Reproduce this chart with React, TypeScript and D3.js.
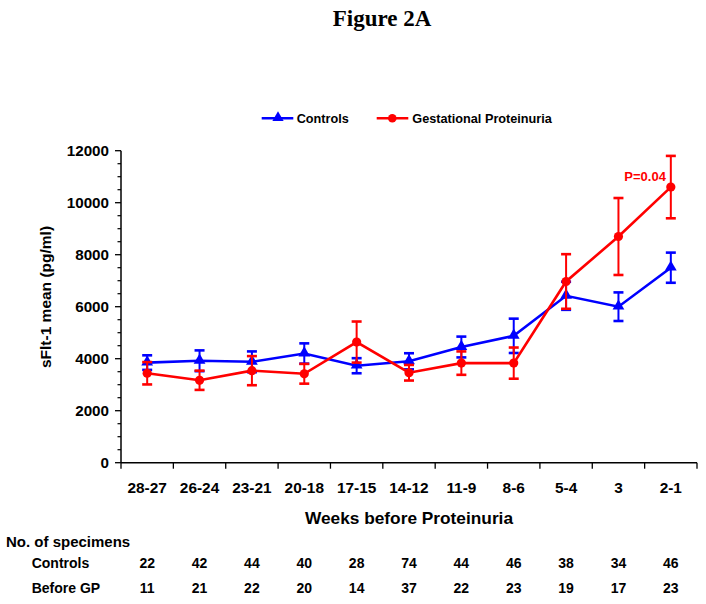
import React from "react";
import * as d3 from "d3";

const categories = ["28-27", "26-24", "23-21", "20-18", "17-15", "14-12", "11-9", "8-6", "5-4", "3", "2-1"];
const controlsMean = [3850, 3920, 3880, 4200, 3730, 3900, 4450, 4880, 6420, 6000, 7500];
const controlsErr = [280, 400, 400, 390, 290, 310, 400, 660, 540, 550, 580];
const gpMean = [3440, 3170, 3540, 3420, 4640, 3460, 3830, 3830, 6970, 8700, 10600];
const gpErr = [430, 370, 560, 380, 790, 300, 450, 600, 1050, 1480, 1200];
const controlsN = [22, 42, 44, 40, 28, 74, 44, 46, 38, 34, 46];
const gpN = [11, 21, 22, 20, 14, 37, 22, 23, 19, 17, 23];
const yMajorTicks = [0, 2000, 4000, 6000, 8000, 10000, 12000];

const FONT = "'Liberation Sans', Arial, Helvetica, sans-serif";
const BLUE = "#0000FF";
const RED = "#FF0000";

export default function App() {
  const x = d3.scaleBand<string>().domain(categories).range([121, 697]).padding(0);
  const y = d3.scaleLinear().domain([0, 12000]).range([462.7, 150.7]);
  const cx = (c: string) => (x(c) as number) + x.bandwidth() / 2;
  const minorTicks = d3.range(0, 12001, 500).filter((v) => v % 2000 !== 0);
  const line = d3
    .line<number>()
    .x((_, i) => cx(categories[i]))
    .y((d) => y(d));
  const tri = d3.symbol().type(d3.symbolTriangle).size(55)() as string;
  const tri2 = d3.symbol().type(d3.symbolTriangle).size(60)() as string;

  const series = [
    { mean: controlsMean, err: controlsErr, color: BLUE, shape: "tri" },
    { mean: gpMean, err: gpErr, color: RED, shape: "circle" },
  ];
  const capW = 5;

  return (
    <svg width={706} height={604} style={{ position: "absolute", left: 0, top: 0, background: "#fff" }}>
      <rect x={0} y={0} width={706} height={604} fill="#fff" />
      <text x={382} y={26} textAnchor="middle" fontFamily="'Liberation Serif', 'Times New Roman', serif" fontWeight="bold" fontSize={23}>
        Figure 2A
      </text>

      {/* Legend */}
      <g fontFamily={FONT} fontWeight="bold" fontSize={12.7}>
        <line x1={261.7} x2={293.3} y1={118.3} y2={118.3} stroke={BLUE} strokeWidth={2.5} />
        <path d={tri} transform={`translate(278,117.8)`} fill={BLUE} />
        <text x={296.7} y={122.7} fill="#000">Controls</text>
        <line x1={376.7} x2={408.3} y1={118.3} y2={118.3} stroke={RED} strokeWidth={2.5} />
        <circle cx={392.3} cy={118.3} r={4.3} fill={RED} />
        <text x={412.3} y={122.7} fill="#000">Gestational Proteinuria</text>
      </g>

      {/* Y axis */}
      <line x1={121} x2={121} y1={y(12000)} y2={y(0)} stroke="#000" strokeWidth={1.5} />
      {yMajorTicks.map((v) => (
        <g key={v}>
          <line x1={115} x2={121} y1={y(v)} y2={y(v)} stroke="#000" strokeWidth={1.3} />
          <text x={109} y={y(v) + 5.3} textAnchor="end" fontFamily={FONT} fontWeight="bold" fontSize={15.2}>
            {v}
          </text>
        </g>
      ))}
      {minorTicks.map((v) => (
        <line key={v} x1={117.5} x2={121} y1={y(v)} y2={y(v)} stroke="#000" strokeWidth={1.2} />
      ))}
      <text
        transform={`translate(50.5,297) rotate(-90)`}
        textAnchor="middle"
        fontFamily={FONT}
        fontWeight="bold"
        fontSize={15.5}
      >
        sFlt-1 mean (pg/ml)
      </text>

      {/* X axis */}
      <line x1={121} x2={697} y1={y(0)} y2={y(0)} stroke="#000" strokeWidth={1.5} />
      {categories.map((c) => (
        <line key={"t" + c} x1={x(c)} x2={x(c)} y1={y(0)} y2={y(0) + 6} stroke="#000" strokeWidth={1.3} />
      ))}
      <line x1={697} x2={697} y1={y(0)} y2={y(0) + 6} stroke="#000" strokeWidth={1.3} />
      {categories.map((c) => (
        <text key={"l" + c} x={cx(c)} y={492.7} textAnchor="middle" fontFamily={FONT} fontWeight="bold" fontSize={15.4}>
          {c}
        </text>
      ))}
      <text x={409} y={524} textAnchor="middle" fontFamily={FONT} fontWeight="bold" fontSize={17.3}>
        Weeks before Proteinuria
      </text>

      {/* Series */}
      {series.map((s, si) => (
        <g key={si}>
          <path d={line(s.mean) as string} fill="none" stroke={s.color} strokeWidth={2.6} />
          {s.mean.map((m, i) => {
            const px = cx(categories[i]);
            const hi = y(m + s.err[i]);
            const lo = y(m - s.err[i]);
            return (
              <g key={i}>
                <line x1={px} x2={px} y1={hi} y2={lo} stroke={s.color} strokeWidth={2} />
                <line x1={px - capW} x2={px + capW} y1={hi} y2={hi} stroke={s.color} strokeWidth={2.6} />
                <line x1={px - capW} x2={px + capW} y1={lo} y2={lo} stroke={s.color} strokeWidth={2.6} />
                {s.shape === "tri" ? (
                  <path d={tri2} transform={`translate(${px},${y(m) - 0.5})`} fill={s.color} />
                ) : (
                  <circle cx={px} cy={y(m)} r={4.6} fill={s.color} />
                )}
              </g>
            );
          })}
        </g>
      ))}

      <text x={624.3} y={180.7} fontFamily={FONT} fontWeight="bold" fontSize={13} fill={RED}>
        P=0.04
      </text>

      {/* Table */}
      <g fontFamily={FONT} fontWeight="bold" fontSize={14}>
        <text x={6} y={546.7} fontSize={15}>No. of specimens</text>
        <text x={31.7} y={568.3}>Controls</text>
        <text x={31.7} y={592.7}>Before GP</text>
        {categories.map((c, i) => (
          <text key={"cn" + c} x={cx(c)} y={568.3} textAnchor="middle">
            {controlsN[i]}
          </text>
        ))}
        {categories.map((c, i) => (
          <text key={"gn" + c} x={cx(c)} y={592.7} textAnchor="middle">
            {gpN[i]}
          </text>
        ))}
      </g>
    </svg>
  );
}
